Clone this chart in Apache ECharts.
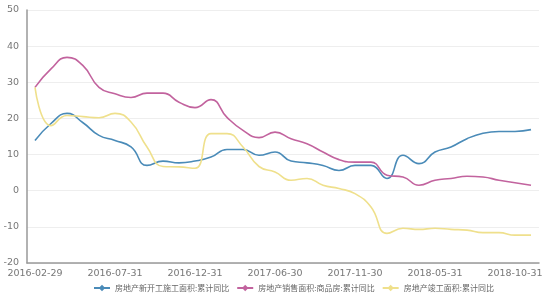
<!DOCTYPE html>
<html><head><meta charset="utf-8">
<script src="https://cdn.jsdelivr.net/npm/echarts@6/dist/echarts.min.js"></script>
<style>html,body{margin:0;padding:0;background:#fff}#c{width:550px;height:300px}</style>
</head><body><div id="c"></div>
<script>
var categories = [
 '2016-02-29','2016-03-31','2016-04-30','2016-05-31','2016-06-30','2016-07-31','2016-08-31','2016-09-30','2016-10-31','2016-11-30','2016-12-31',
 '2017-02-28','2017-03-31','2017-04-30','2017-05-31','2017-06-30','2017-07-31','2017-08-31','2017-09-30','2017-10-31','2017-11-30','2017-12-31',
 '2018-02-28','2018-03-31','2018-04-30','2018-05-31','2018-06-30','2018-07-31','2018-08-31','2018-09-30','2018-10-31','2018-11-30'];
var seriesNames = ['房地产新开工施工面积:累计同比','房地产销售面积:商品房:累计同比','房地产竣工面积:累计同比'];
var newStarts = [13.9,18.6,21.4,18.8,15.3,13.9,12.1,7.0,8.2,7.7,8.2,9.3,11.4,11.4,9.8,10.7,8.2,7.7,7.0,5.6,7.0,7.0,3.4,9.8,7.5,10.7,12.1,14.4,15.9,16.4,16.4,16.9];
var sales = [28.6,33.7,36.9,34.6,28.6,26.8,25.8,27.0,27.0,24.5,23.0,25.2,20.3,16.7,14.7,16.2,14.4,13.0,10.7,8.6,7.9,7.9,4.3,3.8,1.5,2.9,3.4,4.0,3.8,2.9,2.2,1.5];
var completed = [28.6,18.0,20.8,20.5,20.2,21.4,19.0,12.1,6.7,6.6,6.2,15.8,15.8,12.1,6.7,5.2,2.9,3.4,1.5,0.6,-0.8,-4.5,-11.8,-10.4,-10.7,-10.4,-10.7,-10.9,-11.6,-11.6,-12.3,-12.3];
var yTicks = {min:-20, max:50, interval:10};

var colors = ['#4a8bb8','#c2639e','#efe08c'];
function mk(name, data, i){
  return {name:name, type:'line', data:data, smooth:true, symbol:'diamond', symbolSize:6, showSymbol:false,
    lineStyle:{width:1.6, color:colors[i]}, itemStyle:{color:colors[i]}};
}
var chart = echarts.init(document.getElementById('c'), null, {renderer:'canvas'});
chart.setOption({
  animation:false,
  color:colors,
  grid:{left:27, right:11, top:10, bottom:37},
  legend:{bottom:3, left:88, itemWidth:16, itemHeight:8, itemGap:7,
    textStyle:{fontSize:8, color:'#666', fontFamily:'Noto Sans CJK SC'},
    data:seriesNames},
  xAxis:{type:'category', data:categories, boundaryGap:true,
    axisLine:{onZero:false, lineStyle:{color:'#999', width:1.5}},
    axisTick:{show:false},
    axisLabel:{interval:4, fontSize:9.5, color:'#777', margin:6, fontFamily:'DejaVu Sans'}},
  yAxis:{type:'value', min:yTicks.min, max:yTicks.max, interval:yTicks.interval,
    axisLine:{show:true, lineStyle:{color:'#999', width:1.5}},
    axisTick:{show:false},
    axisLabel:{fontSize:9.5, color:'#777', margin:8, fontFamily:'DejaVu Sans'},
    splitLine:{lineStyle:{color:'#eeeeee'}}},
  series:[mk(seriesNames[0], newStarts, 0), mk(seriesNames[1], sales, 1), mk(seriesNames[2], completed, 2)]
});
</script></body></html>
